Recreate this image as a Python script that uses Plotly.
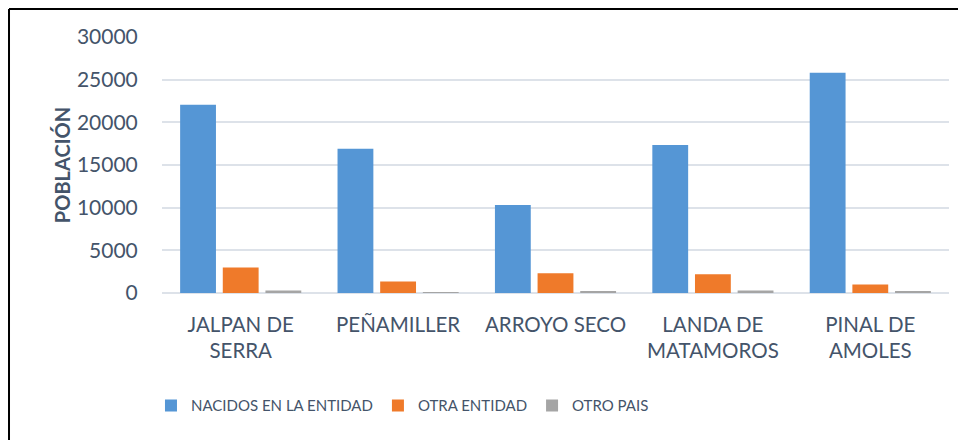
import plotly.graph_objects as go

# municipios (eje x)
municipios = ["JALPAN DE<br>SERRA", "PEÑAMILLER", "ARROYO SECO", "LANDA DE<br>MATAMOROS", "PINAL DE<br>AMOLES"]

# valores
nacidos_entidad = [22050, 16900, 10300, 17350, 25800]
otra_entidad = [3000, 1350, 2300, 2200, 1000]
otro_pais = [300, 60, 170, 300, 180]

txt = "#44546A"
fnt = "Lato, Calibri, sans-serif"

fig = go.Figure()
fig.add_trace(go.Bar(x=municipios, y=nacidos_entidad, name="NACIDOS EN LA ENTIDAD",
                     marker=dict(color="#5596D5", line=dict(width=0))))
fig.add_trace(go.Bar(x=municipios, y=otra_entidad, name="OTRA ENTIDAD",
                     marker=dict(color="#EF7A2A", line=dict(width=0))))
fig.add_trace(go.Bar(x=municipios, y=otro_pais, name="OTRO PAIS",
                     marker=dict(color="#A5A5A5", line=dict(width=0))))

# la pagina tiene 8px de margen en el body, por eso 958x432
fig.update_layout(
    width=958, height=432,
    margin=dict(l=154, r=17, t=29, b=147, autoexpand=False),
    paper_bgcolor="white", plot_bgcolor="white",
    barmode="group", bargap=0.187, bargroupgap=0.16,
    font=dict(family=fnt, color=txt, size=20),
    legend=dict(orientation="h", x=-0.014, xanchor="left", y=-0.44, yanchor="middle",
                font=dict(size=15, color=txt), itemwidth=30, traceorder="normal"),
    showlegend=True,
)
fig.update_xaxes(showline=False, showgrid=False, ticks="", tickfont=dict(size=20.5, color=txt),
                 ticklabelstandoff=17, automargin=False)
fig.update_yaxes(range=[0, 30000], dtick=5000, tickformat="d", showgrid=True, gridcolor="#DDE2E9", gridwidth=2,
                 zeroline=True, zerolinecolor="#DDE2E9", zerolinewidth=2, showline=False,
                 tickfont=dict(size=21, color=txt), ticks="outside", ticklen=19, tickcolor="rgba(0,0,0,0)",
                 title=dict(text="<b>POBLACIÓN</b>", font=dict(size=20, color=txt), standoff=0),
                 automargin=False)

# marco (solo arriba e izquierda visibles)
fig.add_shape(type="line", xref="paper", yref="paper", x0=-0.1944, x1=1.03, y0=1.109, y1=1.109,
              line=dict(color="black", width=2))
fig.add_shape(type="line", xref="paper", yref="paper", x0=-0.1944, x1=-0.1944, y0=1.109, y1=-0.6,
              line=dict(color="black", width=2))

fig.write_html("out.html")
